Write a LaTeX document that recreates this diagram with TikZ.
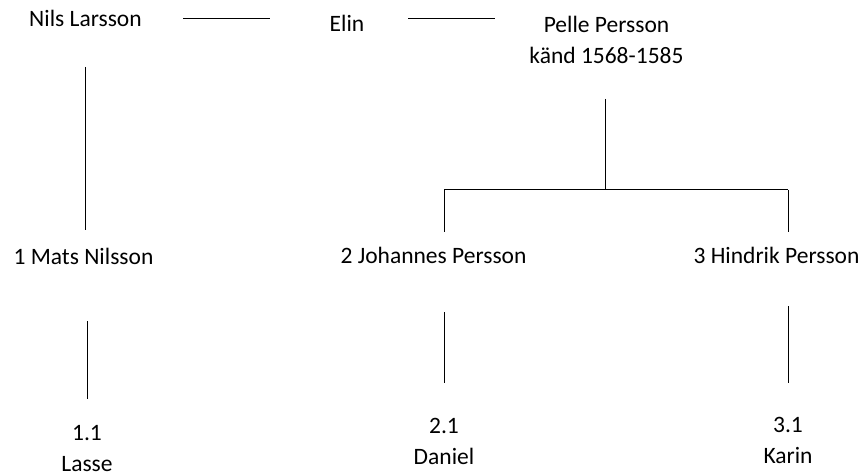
\documentclass[tikz,border=0pt]{standalone}
\usepackage{fontspec}
\setmainfont{Carlito}
\usepackage{tikz}
\usetikzlibrary{positioning}

\begin{document}
\begin{tikzpicture}[x=1pt,y=-1pt,
  person/.style={anchor=base,align=center,inner sep=0pt,font=\fontsize{23.5}{31}\selectfont},
  link/.style={line width=1pt}]

\useasboundingbox (0,0) rectangle (865,473);

% top row, base of the last line
\node[person] (nils) at (85.5,27) {Nils Larsson};
\node[person] (elin) at (347,32) {Elin};
\node[person] (pelle) at (606.5,64) {Pelle Persson\\känd 1568-1585};
% children
\node[person] (mats) at (83.5,265) {1 Mats Nilsson};
\node[person] (johannes) at (433.5,264) {2 Johannes Persson};
\node[person] (hindrik) at (776.5,264) {3 Hindrik Persson};
% grandchildren
\node[person] (lasse) at (87,471) {1.1\\Lasse};
\node[person] (daniel) at (444,464) {2.1\\Daniel};
\node[person] (karin) at (788,463) {3.1\\Karin};

\coordinate (fork) at (605,190);

\draw[link,shorten <=97.5pt,shorten >=77pt] ([yshift=8pt]nils.base) -- ([yshift=8pt]nils.base -| elin.base);
\draw[link,shorten <=61pt,shorten >=111.5pt] ([yshift=13pt]elin.base) -- ([yshift=13pt]elin.base -| pelle.base);
\draw[link,shorten <=40pt,shorten >=35pt] (nils.base) -- (nils.base |- mats.base);
\draw[link,shorten <=56pt,shorten >=72pt] (lasse.base |- mats.base) -- (lasse.base);
\draw[link,shorten <=35pt] (pelle.base -| fork) -- (fork);
\draw[link] (fork -| daniel.base) -- (fork -| karin.base);
\draw[link,shorten >=32pt] (fork -| daniel.base) -- (daniel.base |- johannes.base);
\draw[link,shorten >=32pt] (fork -| karin.base) -- (karin.base |- hindrik.base);
\draw[link,shorten <=48pt,shorten >=81pt] (daniel.base |- johannes.base) -- (daniel.base);
\draw[link,shorten <=42pt,shorten >=80pt] (karin.base |- hindrik.base) -- (karin.base);

\end{tikzpicture}
\end{document}
